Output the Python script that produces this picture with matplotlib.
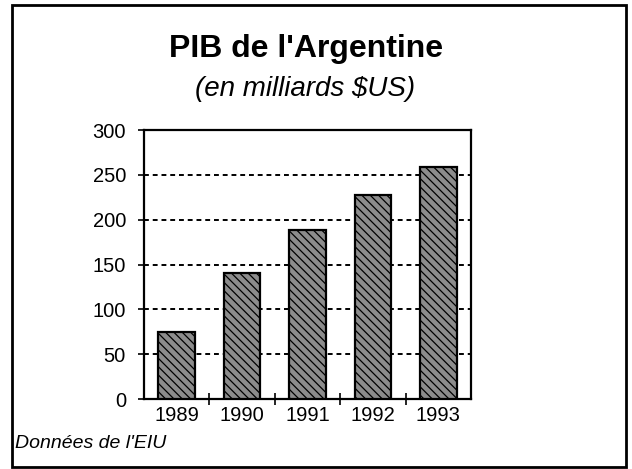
import matplotlib
matplotlib.use("Agg")
import matplotlib.pyplot as plt
from matplotlib.patches import Rectangle
from matplotlib.ticker import FixedLocator

plt.rcParams["font.family"] = ["Liberation Sans", "DejaVu Sans"]
plt.rcParams["hatch.linewidth"] = 0.9
plt.rcParams["hatch.color"] = "black"

# Data (billions of US$)
years = ["1989", "1990", "1991", "1992", "1993"]
gdp = [75, 141, 189, 228, 259]
y_ticks = [0, 50, 100, 150, 200, 250, 300]


def main():
    fig = plt.figure(figsize=(6.32, 4.69), dpi=100)
    ax = fig.add_axes([144 / 632, 1 - 399 / 469, 327 / 632, 269 / 469])

    # outer frame of the page
    fig.patches.append(Rectangle((12 / 632, 1 - 467 / 469), 614 / 632, 462 / 469,
                                 transform=fig.transFigure, fill=False,
                                 edgecolor="black", linewidth=2))

    x = range(len(years))
    ax.bar(x, gdp, width=0.56, facecolor="#8c8c8c", edgecolor="black",
           linewidth=1.6, hatch="\\\\\\\\", zorder=3)

    ax.set_xlim(-0.5, len(years) - 0.5)
    ax.set_ylim(0, 300)
    ax.set_yticks(y_ticks)
    ax.set_xticks(list(x))
    ax.set_xticklabels(years)
    ax.xaxis.set_minor_locator(FixedLocator([i + 0.5 for i in range(len(years) - 1)]))

    ax.tick_params(axis="y", labelsize=14.5, length=4, width=1.2, pad=9)
    ax.tick_params(axis="x", which="major", labelsize=14.5, length=0, pad=5)
    ax.tick_params(axis="x", which="minor", direction="inout", length=8, width=1.2)

    for v in y_ticks[1:-1]:
        ax.axhline(v, color="black", linestyle=(0, (2.5, 2)), linewidth=1.4, zorder=1)

    for s in ax.spines.values():
        s.set_linewidth(1.6)

    fig.text(306 / 632, 1 - 57 / 469, "PIB de l'Argentine", ha="center",
             va="baseline", fontsize=23, fontweight="bold")
    fig.text(305 / 632, 1 - 96 / 469, "(en milliards $US)", ha="center",
             va="baseline", fontsize=20, style="italic")
    fig.text(15 / 632, 1 - 448 / 469, "Données de l'EIU", ha="left",
             va="baseline", fontsize=14, style="italic")

    fig.savefig("out.png", dpi=100)


if __name__ == "__main__":
    main()
